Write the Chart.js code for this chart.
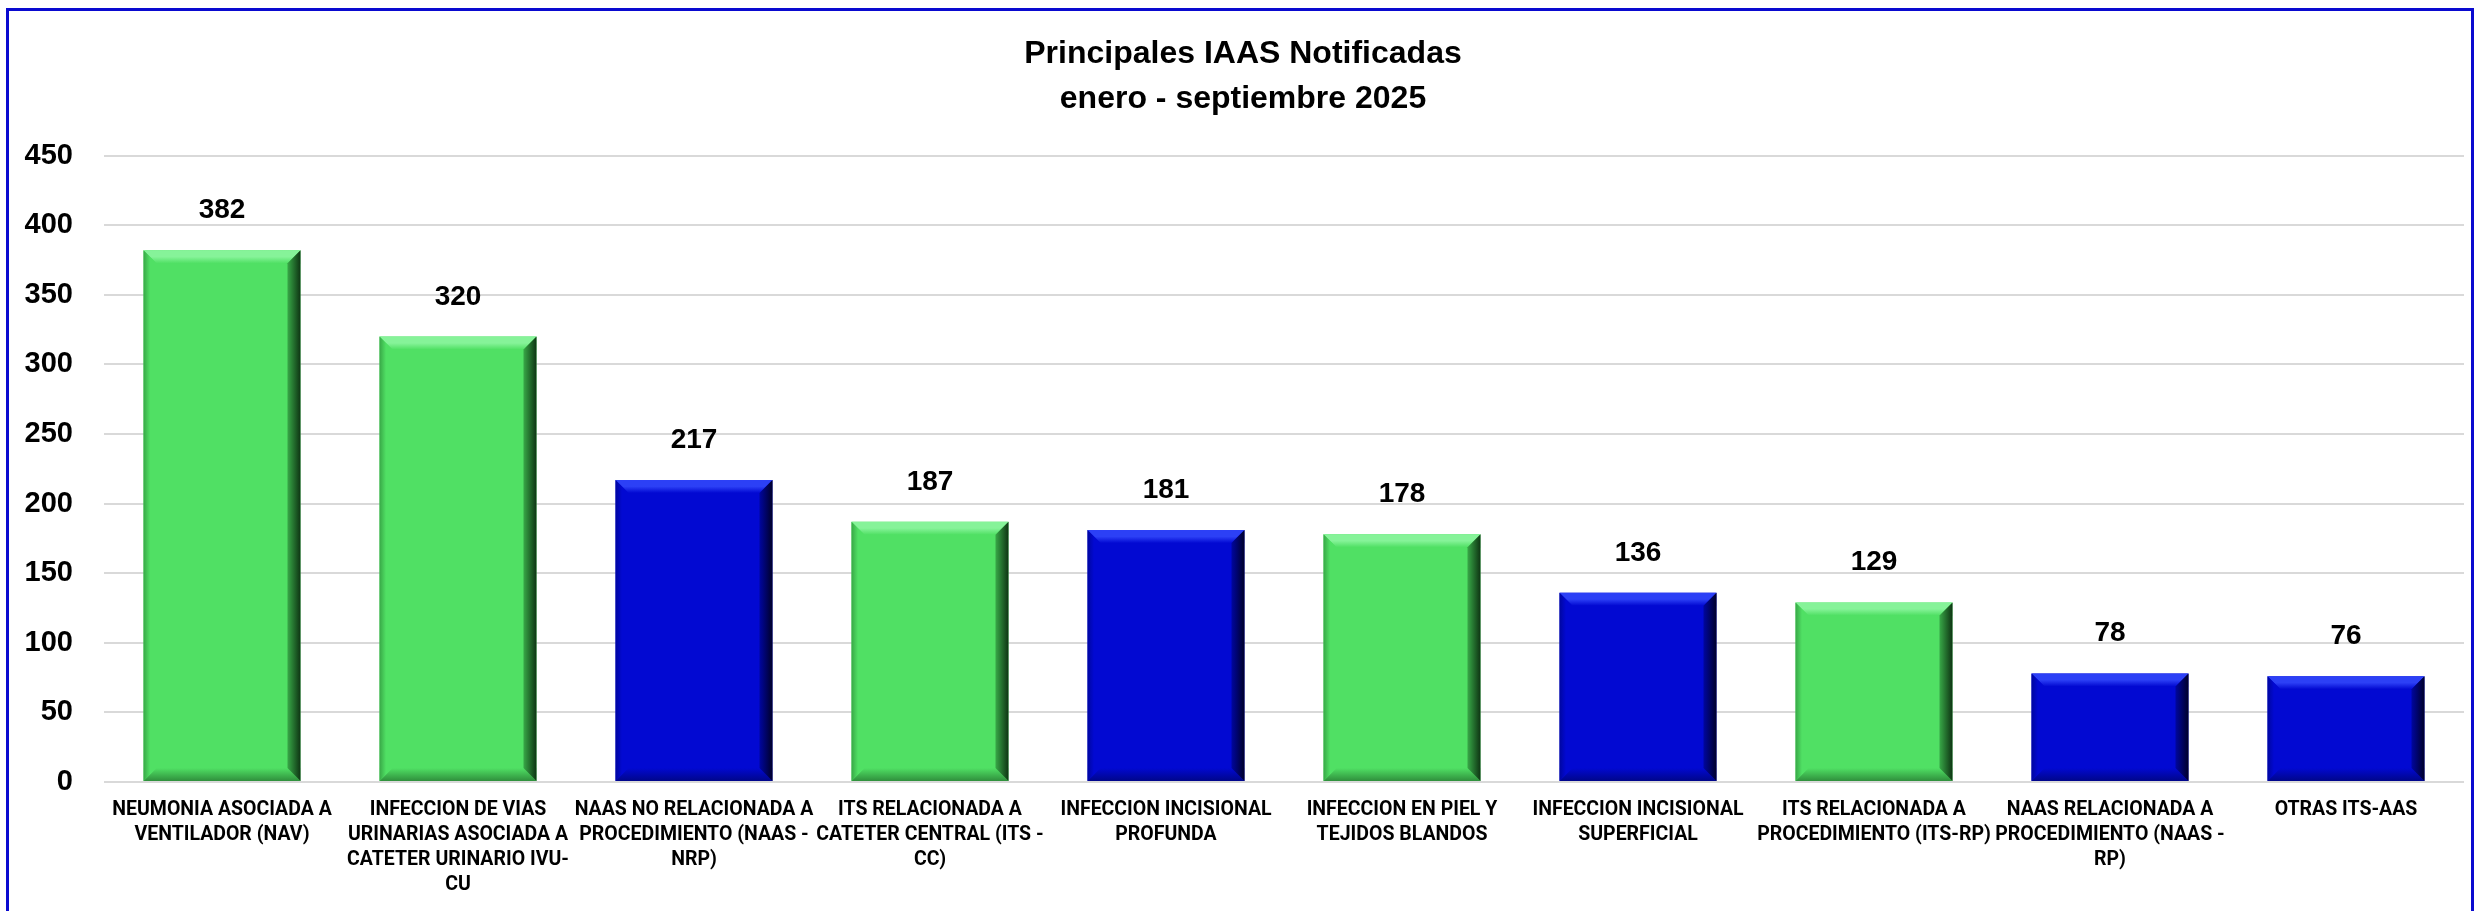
<!DOCTYPE html>
<html>
<head>
<meta charset="utf-8">
<title>Principales IAAS Notificadas</title>
<script src="https://cdn.jsdelivr.net/npm/chart.js@4"></script>
<style>
  html, body { margin: 0; padding: 0; background: #fff; overflow: hidden; }
  #frame {
    position: absolute; left: 6px; top: 8px; width: 2462px; height: 1000px;
    border: 3px solid #0a0ad0; border-bottom: none;
  }
  #chart { position: absolute; left: 0; top: 0; }
</style>
</head>
<body>
<div id="frame"></div>
<canvas id="chart" width="2476" height="911"></canvas>
<script>
const categories = [
  ["NEUMONIA ASOCIADA A", "VENTILADOR (NAV)"],
  ["INFECCION DE VIAS", "URINARIAS ASOCIADA A", "CATETER URINARIO IVU-", "CU"],
  ["NAAS NO RELACIONADA A", "PROCEDIMIENTO (NAAS -", "NRP)"],
  ["ITS RELACIONADA A", "CATETER CENTRAL (ITS -", "CC)"],
  ["INFECCION INCISIONAL", "PROFUNDA"],
  ["INFECCION EN PIEL Y", "TEJIDOS BLANDOS"],
  ["INFECCION INCISIONAL", "SUPERFICIAL"],
  ["ITS RELACIONADA A", "PROCEDIMIENTO (ITS-RP)"],
  ["NAAS RELACIONADA A", "PROCEDIMIENTO (NAAS -", "RP)"],
  ["OTRAS ITS-AAS"]
];
const casos = [382, 320, 217, 187, 181, 178, 136, 129, 78, 76];
const yTicks = [0, 50, 100, 150, 200, 250, 300, 350, 400, 450];
const titleLines = ["Principales IAAS Notificadas", "enero - septiembre 2025"];

// colour of each bar, green or blue as in the original
const barColors = ["green", "green", "blue", "green", "blue", "green", "blue", "green", "blue", "blue"];
const palette = {
  green: { base: "#50e064", light: "#86f399", edge: "#0e3413", mid: "#38a847", low: "#2f8f3c" },
  blue:  { base: "#0209d2", light: "#2c40f6", edge: "#00002a", mid: "#0006a0", low: "#00068a" }
};

const numFont = '"Liberation Sans", Arial, sans-serif';
const labelFont = 'Roboto, "Liberation Sans", Arial, sans-serif';

// draws the bevelled look of the excel bars on top of the plain bars
const bevelPlugin = {
  id: "bevel",
  afterDatasetsDraw(chart) {
    const ctx = chart.ctx;
    const meta = chart.getDatasetMeta(0);
    meta.data.forEach((bar, i) => {
      const p = bar.getProps(["x", "y", "base", "width"], true);
      const x0 = p.x - p.width / 2, x1 = p.x + p.width / 2;
      const y0 = p.y, y1 = p.base;
      const c = palette[barColors[i]];
      const b = Math.min(13, (y1 - y0) / 2);
      ctx.save();
      // top
      let g = ctx.createLinearGradient(0, y0, 0, y0 + b);
      g.addColorStop(0, c.light);
      g.addColorStop(0.5, c.light);
      g.addColorStop(1, c.base);
      ctx.fillStyle = g;
      ctx.beginPath();
      ctx.moveTo(x0, y0); ctx.lineTo(x1, y0); ctx.lineTo(x1 - b, y0 + b); ctx.lineTo(x0 + b, y0 + b);
      ctx.closePath(); ctx.fill();
      // bottom
      g = ctx.createLinearGradient(0, y1 - b, 0, y1);
      g.addColorStop(0, c.base);
      g.addColorStop(1, c.low);
      ctx.fillStyle = g;
      ctx.beginPath();
      ctx.moveTo(x0, y1); ctx.lineTo(x1, y1); ctx.lineTo(x1 - b, y1 - b); ctx.lineTo(x0 + b, y1 - b);
      ctx.closePath(); ctx.fill();
      // left
      g = ctx.createLinearGradient(x0, 0, x0 + b, 0);
      g.addColorStop(0, c.mid);
      g.addColorStop(0.5, c.base);
      g.addColorStop(1, c.base);
      ctx.fillStyle = g;
      ctx.beginPath();
      ctx.moveTo(x0, y0); ctx.lineTo(x0 + b, y0 + b); ctx.lineTo(x0 + b, y1 - b); ctx.lineTo(x0, y1);
      ctx.closePath(); ctx.fill();
      // right
      g = ctx.createLinearGradient(x1 - b, 0, x1, 0);
      g.addColorStop(0, c.mid);
      g.addColorStop(1, c.edge);
      ctx.fillStyle = g;
      ctx.beginPath();
      ctx.moveTo(x1, y0); ctx.lineTo(x1 - b, y0 + b); ctx.lineTo(x1 - b, y1 - b); ctx.lineTo(x1, y1);
      ctx.closePath(); ctx.fill();
      ctx.restore();
    });
  }
};

// value above each bar
const valueLabels = {
  id: "valueLabels",
  afterDatasetsDraw(chart) {
    const ctx = chart.ctx;
    const meta = chart.getDatasetMeta(0);
    ctx.save();
    ctx.font = "bold 28px " + numFont;
    ctx.fillStyle = "#000";
    ctx.textAlign = "center";
    ctx.textBaseline = "alphabetic";
    meta.data.forEach((bar, i) => {
      ctx.fillText(String(casos[i]), bar.x, bar.y - 32);
    });
    ctx.restore();
  }
};

new Chart(document.getElementById("chart"), {
  type: "bar",
  data: {
    labels: categories,
    datasets: [{
      data: casos,
      backgroundColor: barColors.map(k => palette[k].base),
      borderWidth: 0,
      categoryPercentage: 1,
      barPercentage: 0.665
    }]
  },
  options: {
    responsive: false,
    animation: false,
    layout: { padding: { left: 22, right: 12, top: 0, bottom: 0 } },
    plugins: {
      legend: { display: false },
      tooltip: { enabled: false },
      title: {
        display: true,
        text: titleLines,
        color: "#000",
        font: { family: numFont, size: 32, weight: "bold", lineHeight: 1.4 },
        padding: { top: 32, bottom: 34 }
      }
    },
    scales: {
      x: {
        grid: { display: false, drawTicks: false },
        border: { display: false },
        ticks: {
          color: "#000",
          autoSkip: false,
          maxRotation: 0,
          minRotation: 0,
          padding: 16,
          font: { family: labelFont, size: 19.5, weight: "bold", lineHeight: 1.28 }
        },
        afterFit(scale) { scale.height = 129; }
      },
      y: {
        min: 0,
        max: 450,
        afterBuildTicks(scale) { scale.ticks = yTicks.map(v => ({ value: v })); },
        grid: { color: "#d9d9d9", lineWidth: 2, drawTicks: false },
        border: { display: false },
        ticks: {
          color: "#000",
          padding: 31,
          font: { family: numFont, size: 29, weight: "bold" }
        },
        afterFit(scale) { scale.width = 82; }
      }
    }
  },
  plugins: [bevelPlugin, valueLabels]
});
</script>
</body>
</html>
